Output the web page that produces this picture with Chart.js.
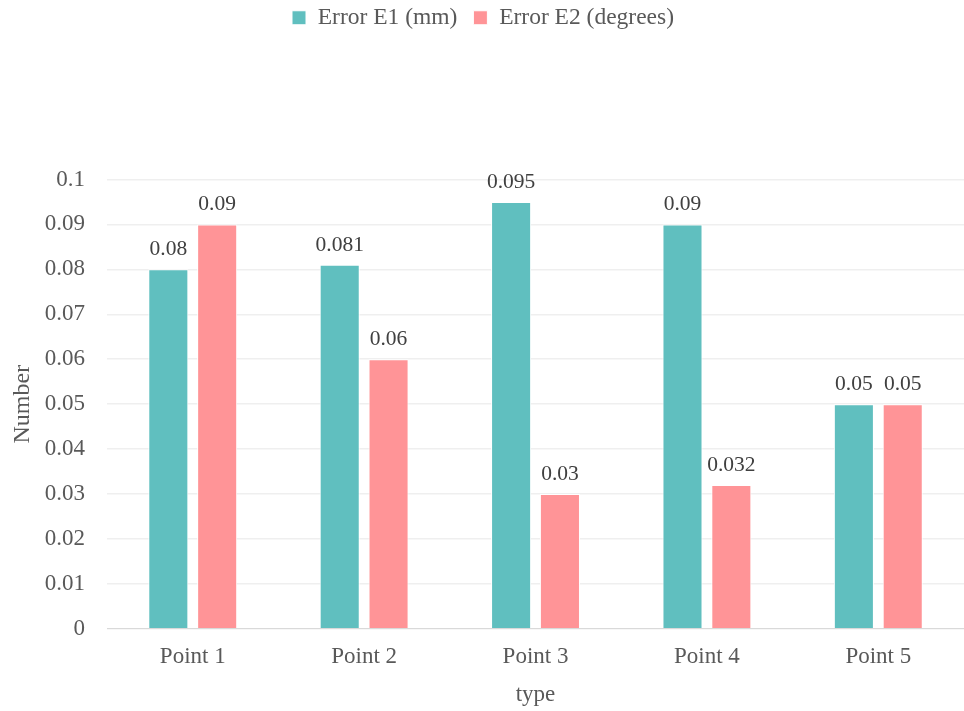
<!DOCTYPE html>
<html lang="en">
<head>
    <meta charset="UTF-8">
    <title>Error E1 / E2 by point</title>
    <style>
        html, body { margin: 0; padding: 0; background: #fff; }
        #wrap { width: 964px; height: 711px; }
    </style>
    <script src="https://cdn.jsdelivr.net/npm/chart.js"></script>
</head>
<body>
    <div id="wrap"><canvas id="errChart"></canvas></div>
    <script>
        // data
        const categories = ['Point 1', 'Point 2', 'Point 3', 'Point 4', 'Point 5'];
        const errorE1 = [0.08, 0.081, 0.095, 0.09, 0.05];
        const errorE2 = [0.09, 0.06, 0.03, 0.032, 0.05];
        const seriesNames = ['Error E1 (mm)', 'Error E2 (degrees)'];

        const FONT = "'Liberation Serif', 'Times New Roman', serif";
        const TEXT = '#595959';

        // push the plot down from the legend
        const legendGap = {
            id: 'legendGap',
            beforeInit(chart) {
                const fit = chart.legend.fit;
                chart.legend.fit = function () {
                    fit.bind(chart.legend)();
                    this.height += 140;
                };
            }
        };

        // value labels above each bar
        const barLabels = {
            id: 'barLabels',
            afterDatasetsDraw(chart) {
                const ctx = chart.ctx;
                ctx.save();
                ctx.font = '21.5px ' + FONT;
                ctx.fillStyle = '#404040';
                ctx.textAlign = 'center';
                ctx.textBaseline = 'bottom';
                chart.data.datasets.forEach((ds, i) => {
                    chart.getDatasetMeta(i).data.forEach((bar, j) => {
                        ctx.fillText(String(ds.data[j]), bar.x, bar.y - 9);
                    });
                });
                ctx.restore();
            }
        };

        new Chart(document.getElementById('errChart'), {
            type: 'bar',
            data: {
                labels: categories,
                datasets: [
                    {
                        label: seriesNames[0],
                        data: errorE1,
                        backgroundColor: '#60BFBF',
                        borderColor: '#ffffff',
                        borderWidth: 1,
                        categoryPercentage: 0.57,
                        barPercentage: 0.82
                    },
                    {
                        label: seriesNames[1],
                        data: errorE2,
                        backgroundColor: '#FF9497',
                        borderColor: '#ffffff',
                        borderWidth: 1,
                        categoryPercentage: 0.57,
                        barPercentage: 0.82
                    }
                ]
            },
            options: {
                responsive: true,
                maintainAspectRatio: false,
                animation: false,
                layout: { padding: { top: -10, right: 0, left: 2, bottom: 2 } },
                plugins: {
                    legend: {
                        position: 'top',
                        labels: {
                            font: { family: FONT, size: 23.5 },
                            color: TEXT,
                            boxWidth: 14,
                            boxHeight: 14,
                            padding: 16
                        }
                    },
                    tooltip: { enabled: false }
                },
                scales: {
                    x: {
                        grid: { display: false, drawTicks: false },
                        border: { display: true, color: '#d9d9d9', width: 1 },
                        ticks: { font: { family: FONT, size: 23 }, color: TEXT, padding: 14 },
                        title: {
                            display: true,
                            text: 'type',
                            font: { family: FONT, size: 23 },
                            color: TEXT,
                            padding: { top: -3, bottom: 0 }
                        }
                    },
                    y: {
                        min: 0,
                        max: 0.1,
                        ticks: {
                            stepSize: 0.01,
                            font: { family: FONT, size: 23 },
                            color: TEXT,
                            padding: 22,
                            callback: v => String(+v.toFixed(3))
                        },
                        grid: { color: '#efefef', lineWidth: 1.5, drawTicks: false },
                        border: { display: false },
                        title: {
                            display: true,
                            text: 'Number',
                            font: { family: FONT, size: 24 },
                            color: TEXT,
                            padding: { top: 6, bottom: -14 }
                        }
                    }
                }
            },
            plugins: [legendGap, barLabels]
        });
    </script>
</body>
</html>
